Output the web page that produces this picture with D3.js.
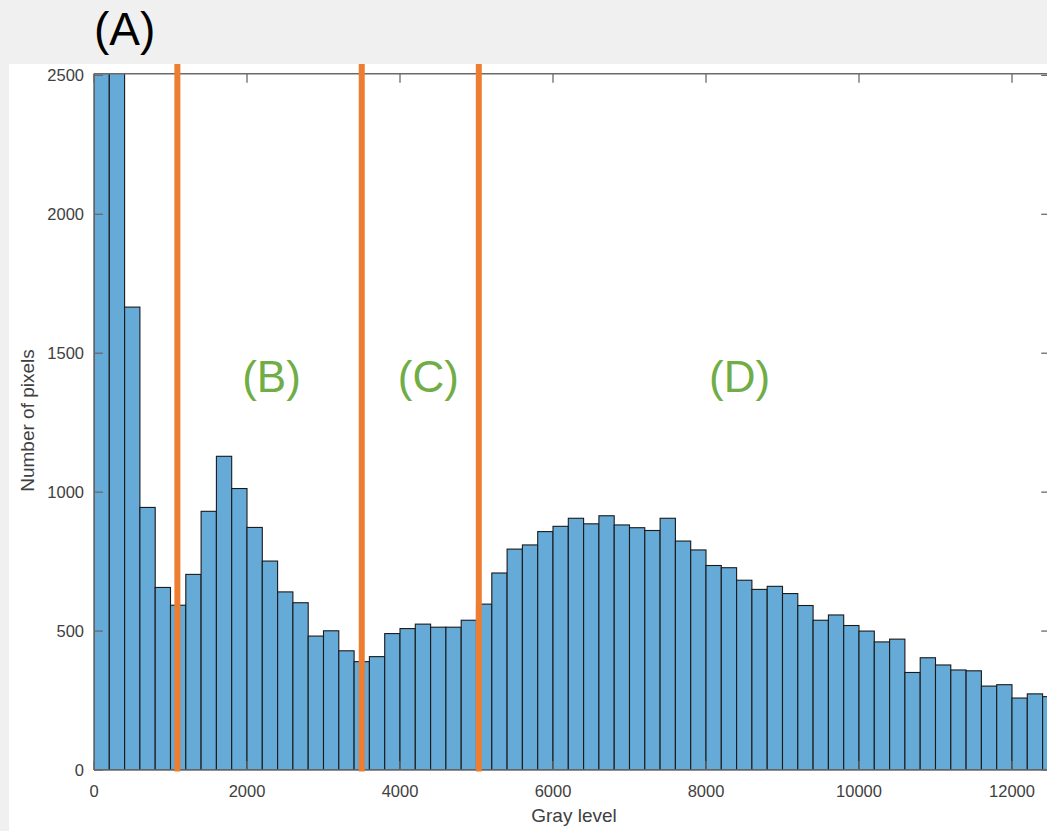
<!DOCTYPE html>
<html>
<head>
<meta charset="utf-8">
<script src="https://cdn.jsdelivr.net/npm/d3@7"></script>
<style>
  html, body { margin: 0; padding: 0; background: #f0f0f0; }
  svg { display: block; }
  text { font-family: "Liberation Sans", Arial, Helvetica, sans-serif; }
</style>
</head>
<body>
<svg id="chart" width="1047" height="831"></svg>
<script>
// ---- data ----
const binWidth = 200;
const binStart = [0,200,400,600,800,1000,1200,1400,1600,1800,2000,2200,2400,2600,2800,3000,3200,3400,3600,3800,
  4000,4200,4400,4600,4800,5000,5200,5400,5600,5800,6000,6200,6400,6600,6800,7000,7200,7400,7600,7800,
  8000,8200,8400,8600,8800,9000,9200,9400,9600,9800,10000,10200,10400,10600,10800,11000,11200,11400,11600,11800,
  12000,12200,12400];
const counts = [4000,3000,1666,945,657,593,704,931,1129,1013,873,752,641,602,482,501,429,390,408,491,
  509,525,514,514,539,597,709,795,810,858,877,906,886,915,882,872,862,906,824,792,
  736,728,683,650,661,635,592,539,558,520,500,461,471,351,404,378,360,357,302,307,
  259,274,264];
const xTicks = [0,2000,4000,6000,8000,10000,12000];
const yTicks = [0,500,1000,1500,2000,2500];
const thresholds = [1090,3500,5030];
const regionLabels = ["(B)","(C)","(D)"];
const regionLabelX = [2320,4370,8440];
const regionLabelY = 1360;
const panelTitle = "(A)";
const xTitle = "Gray level";
const yTitle = "Number of pixels";

// ---- layout ----
const svg = d3.select("#chart");
const W = 1047, H = 831;
const x = d3.scaleLinear().domain([0, 12500]).range([94, 1050.25]);
const y = d3.scaleLinear().domain([0, 2506]).range([770, 73.7]);
const yTopPanel = 2541; // threshold lines run up to the top edge of the white panel

// white panel
svg.append("rect").attr("x", 9).attr("y", 64).attr("width", W - 9).attr("height", H - 64).attr("fill", "#ffffff");

// clip for plot area
svg.append("clipPath").attr("id", "plotclip").append("rect")
  .attr("x", x(0)).attr("y", y(2506)).attr("width", x(12500) - x(0)).attr("height", y(0) - y(2506));

// bars
svg.append("g").attr("clip-path", "url(#plotclip)")
  .selectAll("rect").data(counts).join("rect")
  .attr("x", (d, i) => x(binStart[i]))
  .attr("y", d => y(d))
  .attr("width", (d, i) => x(binStart[i] + binWidth) - x(binStart[i]))
  .attr("height", d => y(0) - y(d))
  .attr("fill", "#66AAD7")
  .attr("stroke", "#1a1a1a")
  .attr("stroke-width", 1.1);

// axes
const tickLen = 9;
const axisColor = "#6a6a6a";
const gAx = svg.append("g");
// box lines
gAx.append("line").attr("x1", x(0)).attr("x2", x(12500)).attr("y1", y(0)).attr("y2", y(0)).attr("stroke", axisColor).attr("stroke-width", 1.5);
gAx.append("line").attr("x1", x(0)).attr("x2", x(12500)).attr("y1", y(2506)).attr("y2", y(2506)).attr("stroke", axisColor).attr("stroke-width", 1.5);
gAx.append("line").attr("x1", x(0)).attr("x2", x(0)).attr("y1", y(0)).attr("y2", y(2506)).attr("stroke", axisColor).attr("stroke-width", 1.5);
gAx.append("line").attr("x1", x(12500)).attr("x2", x(12500)).attr("y1", y(0)).attr("y2", y(2506)).attr("stroke", axisColor).attr("stroke-width", 1.5);

// x ticks (bottom + top, inward)
xTicks.forEach(t => {
  gAx.append("line").attr("x1", x(t)).attr("x2", x(t)).attr("y1", y(0)).attr("y2", y(0) - tickLen).attr("stroke", axisColor).attr("stroke-width", 1.3);
  gAx.append("line").attr("x1", x(t)).attr("x2", x(t)).attr("y1", y(2506)).attr("y2", y(2506) + tickLen).attr("stroke", axisColor).attr("stroke-width", 1.3);
  gAx.append("text").attr("x", x(t)).attr("y", 797).attr("text-anchor", "middle")
    .attr("font-size", 16.5).attr("fill", "#404040").text(t);
});
// y ticks (left + right, inward)
yTicks.forEach(t => {
  gAx.append("line").attr("x1", x(0)).attr("x2", x(0) + tickLen).attr("y1", y(t)).attr("y2", y(t)).attr("stroke", axisColor).attr("stroke-width", 1.3);
  gAx.append("line").attr("x1", x(12500)).attr("x2", x(12500) - tickLen).attr("y1", y(t)).attr("y2", y(t)).attr("stroke", axisColor).attr("stroke-width", 1.3);
  gAx.append("text").attr("x", x(0) - 10).attr("y", y(t)).attr("dy", "0.36em").attr("text-anchor", "end")
    .attr("font-size", 16.5).attr("fill", "#404040").text(t);
});

// axis titles
svg.append("text").attr("x", 574).attr("y", 822).attr("text-anchor", "middle")
  .attr("font-size", 19).attr("fill", "#404040").text(xTitle);
svg.append("text").attr("transform", "translate(34,420.5) rotate(-90)").attr("text-anchor", "middle")
  .attr("font-size", 19).attr("fill", "#404040").text(yTitle);

// threshold lines
svg.append("g").selectAll("line").data(thresholds).join("line")
  .attr("x1", d => x(d)).attr("x2", d => x(d))
  .attr("y1", y(0) + 1.5).attr("y2", y(yTopPanel))
  .attr("stroke", "#ED7D31").attr("stroke-width", 6);

// region labels
svg.append("g").selectAll("text").data(regionLabels).join("text")
  .attr("x", (d, i) => x(regionLabelX[i])).attr("y", y(regionLabelY))
  .attr("text-anchor", "middle").attr("font-size", 44).attr("fill", "#70AD47").text(d => d);

// panel title
svg.append("text").attr("x", 94).attr("y", 45).attr("font-size", 46).attr("fill", "#000").text(panelTitle);
</script>
</body>
</html>
